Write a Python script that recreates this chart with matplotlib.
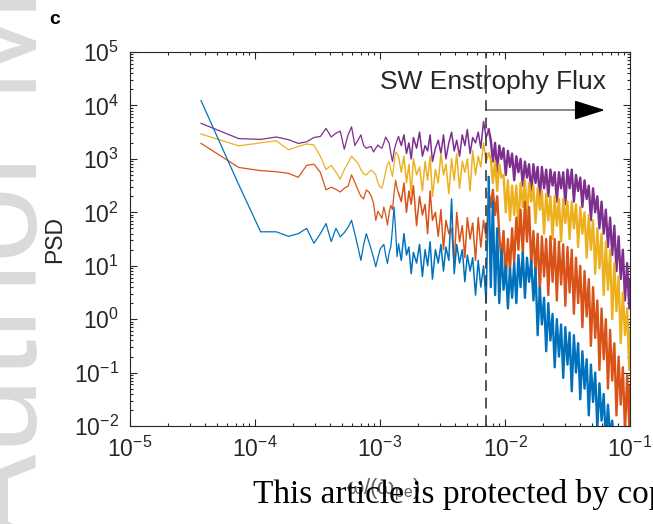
import numpy as np
import matplotlib
matplotlib.use('Agg')
import matplotlib.pyplot as plt
from matplotlib.ticker import LogLocator, NullFormatter

plt.rcParams['font.family'] = ['Liberation Sans', 'DejaVu Sans']
plt.rcParams['mathtext.default'] = 'regular'

# frequency grid: index k times the base step
df = 3.7e-5
k_low = list(range(1, 39))
k_mid = [40, 42, 44, 46, 48, 50, 53, 56, 59, 62, 65, 68, 71, 75, 79, 83, 87, 91,
         96, 101, 106, 111, 117, 123, 129, 135, 142, 149, 157, 165, 173, 182, 191, 200]
k_high = [208, 216, 225, 234, 243, 253, 263, 274, 285, 296, 308, 320, 333, 346, 360,
          375, 390, 405, 421, 438, 456, 474, 493, 513, 533, 555, 577, 600, 624, 649,
          675, 702, 730, 759, 790, 821, 854, 888, 924, 961, 999, 1039, 1081, 1124,
          1169, 1216, 1265, 1315, 1368, 1423, 1480, 1539, 1600, 1665, 1731, 1800,
          1873, 1947, 2025, 2106, 2191, 2278, 2369, 2464, 2563, 2665, 2700]

# log10(PSD), one list per curve
purple_log = [
    3.665, 3.38, 3.365, 3.41, 3.36, 3.29, 3.32, 3.40, 3.42, 3.57,
    3.41, 3.48, 3.52, 3.18, 3.45, 3.60, 3.25, 3.35, 3.45, 3.25,
    3.20, 3.22, 3.23, 3.13, 3.20, 3.26, 3.22, 3.20, 3.30, 3.41,
    3.35, 3.29, 3.10, 2.95, 3.15, 3.26, 3.35, 3.41,
    3.25, 3.45, 3.1, 3.3, 3.0, 3.4, 3.2, 3.5, 3.05, 3.25,
    3.15, 3.45, 2.95, 3.2, 3.35, 3.1, 3.45, 3.0, 3.3, 3.5,
    3.15, 3.35, 3.05, 3.45, 3.25, 3.55, 3.1, 3.4, 3.3, 3.5,
    3.2, 3.7, 3.4, 3.55,
    3.35, 2.95, 3.3, 2.75, 3.25, 3.0, 3.2, 2.7, 3.15, 2.85,
    3.1, 2.6, 3.05, 2.75, 3.0, 2.5, 2.95, 2.65, 2.9, 2.35,
    2.9, 2.55, 2.85, 2.25, 2.85, 2.45, 2.8, 2.3, 2.8, 2.5,
    2.75, 2.2, 2.75, 2.45, 2.75, 2.15, 2.8, 2.45, 2.8, 2.2,
    2.7, 2.4, 2.65, 2.1, 2.6, 2.25, 2.5, 1.85, 2.45, 2.0,
    2.3, 1.7, 2.2, 1.6, 2.05, 1.35, 1.9, 1.2, 1.75, 0.9,
    1.55, 0.75, 1.3, 0.35, 1.05, 0.2, 0.75]

yellow_log = [
    3.465, 3.245, 3.30, 3.34, 3.17, 3.23, 3.28, 3.26, 3.05, 2.80,
    2.88, 2.75, 2.62, 2.80, 2.92, 3.05, 2.98, 2.92, 2.80, 2.72,
    2.70, 2.75, 2.79, 2.75, 2.70, 2.55, 2.48, 2.45, 2.60, 2.76,
    2.90, 2.95, 2.80, 2.67, 2.90, 3.13, 3.10, 3.04,
    2.75, 3.05, 2.55, 2.9, 2.35, 3.0, 2.7, 2.85, 2.4, 2.95,
    2.6, 3.05, 2.3, 2.8, 2.55, 3.1, 2.7, 2.9, 2.35, 3.0,
    2.6, 3.1, 2.45, 2.95, 2.75, 3.0, 2.4, 3.15, 2.7, 3.05,
    2.85, 3.3, 2.95, 3.1,
    3.0, 2.55, 2.95, 2.4, 2.9, 2.65, 2.7, 2.0, 2.6, 1.85,
    2.5, 1.95, 2.5, 1.7, 2.55, 2.1, 2.6, 1.9, 2.55, 2.2,
    2.5, 1.8, 2.45, 2.05, 2.4, 1.6, 2.35, 1.85, 2.3, 1.5,
    2.3, 1.75, 2.25, 1.45, 2.25, 1.8, 2.2, 1.5, 2.2, 1.7,
    2.15, 1.35, 2.1, 1.6, 2.0, 1.15, 1.95, 1.3, 1.85, 0.85,
    1.7, 0.95, 1.6, 0.45, 1.45, 0.55, 1.3, 0.0, 1.05, 0.15,
    0.8, -0.45, 0.5, -0.3, 0.2, -0.95, -0.2]

orange_log = [
    3.29, 2.84, 2.78, 2.76, 2.73, 2.655, 2.88, 2.90, 2.75, 2.42,
    2.47, 2.43, 2.38, 2.45, 2.49, 2.70, 2.56, 2.42, 2.30, 2.25,
    2.42, 2.38, 2.30, 2.17, 1.85, 2.02, 1.95, 1.89, 2.10, 1.95,
    1.76, 2.00, 2.13, 2.05, 2.35, 2.60, 2.45, 2.36,
    2.2, 2.55, 2.0, 2.4, 2.15, 2.5, 1.75, 2.3, 1.95, 2.15,
    1.6, 2.4, 1.85, 2.0, 1.55, 2.05, 1.3, 1.85, 1.6, 1.7,
    1.0, 2.0, 1.45, 1.75, 1.15, 1.9, 1.5, 1.8, 1.1, 1.9,
    1.35, 1.85, 1.5, 2.35,
    2.1, 2.42, 1.95, 2.3, 1.6, 1.1, 1.65, 0.75, 1.5, 0.9,
    1.7, 1.05, 1.9, 1.3, 2.05, 1.2, 2.2, 1.45, 2.1, 1.0,
    1.65, 0.85, 1.6, 0.5, 1.55, 0.8, 1.5, 0.45, 1.55, 0.7,
    1.5, 0.35, 1.45, 0.65, 1.4, 0.25, 1.35, 0.5, 1.3, 0.1,
    1.15, 0.3, 1.0, -0.15, 0.9, 0.05, 0.75, -0.5, 0.6, -0.35,
    0.35, -0.95, 0.2, -0.75, 0.0, -1.3, -0.2, -1.15, -0.45, -1.8,
    -0.7, -1.6, -0.9, -2.1, -1.05, -2.0, -1.25]

blue_log = [
    4.09, 2.52, 1.635, 1.635, 1.55, 1.60, 1.70, 1.42, 1.60, 1.79,
    1.45, 1.70, 1.54, 1.62, 1.72, 1.85, 1.60, 1.35, 1.10, 1.40,
    1.60, 1.45, 1.30, 1.15, 0.98, 1.15, 1.30, 1.36, 1.40, 1.20,
    1.04, 1.25, 1.36, 1.70, 2.10, 1.67, 1.17, 1.40,
    1.1, 1.6, 1.2, 1.35, 0.85, 1.25, 1.05, 1.4, 0.8, 1.3,
    1.0, 1.45, 0.75, 1.3, 1.05, 1.4, 0.9, 1.35, 1.1, 2.25,
    0.85, 1.4, 1.05, 1.3, 0.7, 1.2, 0.9, 1.15, 0.45, 1.1,
    0.6, 1.0, 0.3, 2.66,
    0.6, 2.2, 0.45, 1.7, 0.3, 1.3, 0.55, 1.0, 0.2, 0.95,
    0.4, 1.05, 0.3, 1.2, 0.6, 1.25, 0.4, 1.15, 0.7, 1.1,
    0.35, 0.95, -0.3, 0.6, -0.1, 0.4, -0.6, 0.3, -0.4, 0.1,
    -0.9, 0.0, -0.7, -0.1, -1.1, -0.15, -0.85, -0.25, -1.35, -0.3,
    -1.0, -0.45, -1.5, -0.6, -1.3, -0.75, -1.8, -0.85, -1.55, -1.0,
    -2.05, -1.2, -1.9, -1.4, -2.3, -1.6, -2.2, -1.9, -2.5, -2.1,
    -2.6, -2.3, -2.7, -2.5, -2.8, -2.6, -2.9]

flux_start = 7.1e-3   # dashed line position
arrow_end = 0.063
arrow_level = 8.2e3

k_all = k_low + k_mid + k_high
freq = np.array(k_all) * df
split = len(k_low) + len(k_mid)  # index of k = 200, noisy band starts here
for vals in (purple_log, yellow_log, orange_log, blue_log):
    assert len(vals) == len(k_all), len(vals)

fig = plt.figure(figsize=(6.53, 5.24), dpi=100)
ax = fig.add_axes([0.1991, 0.187, 0.7657, 0.7137])

# purple drawn first, blue ends up on top
curves = [(purple_log, '#7E2F8E'), (yellow_log, '#EDB120'),
          (orange_log, '#D95319'), (blue_log, '#0072BD')]
for vals, col in curves:
    psd = 10.0 ** np.array(vals)
    ax.plot(freq[:len(k_low)], psd[:len(k_low)], color=col, lw=0.9)
    ax.plot(freq[len(k_low) - 1:split], psd[len(k_low) - 1:split], color=col, lw=1.1)
    # dense part of the spectrum looks like a filled band
    ax.plot(freq[split - 1:], psd[split - 1:], color=col, lw=1.7)

ax.set_xscale('log')
ax.set_yscale('log')
ax.set_xlim(1e-5, 1e-1)
ax.set_ylim(1e-2, 1e5)
ax.set_xticks(10.0 ** np.arange(-5, 0))
ax.set_yticks(10.0 ** np.arange(-2, 6))
for axis in (ax.xaxis, ax.yaxis):
    axis.set_minor_locator(LogLocator(base=10, subs=np.arange(2, 10), numticks=100))
    axis.set_minor_formatter(NullFormatter())

ax.tick_params(which='both', direction='in', top=True, right=True,
               colors='#262626', labelsize=16.5, width=0.8)
ax.tick_params(which='major', length=5, pad=8)
ax.tick_params(which='minor', length=2.5)
for s in ax.spines.values():
    s.set_color('#262626')
    s.set_linewidth(0.8)

# dashed line and the enstrophy flux arrow
ax.axvline(flux_start, color='#3a3a3a', ls=(0, (6.5, 4)), lw=1.2, zorder=5)
ax.plot([flux_start, 0.05], [arrow_level, arrow_level], color='#808080', lw=1.3)
ax.annotate('', xy=(arrow_end, arrow_level), xytext=(0.045, arrow_level),
            arrowprops=dict(arrowstyle='-|>,head_length=1.9,head_width=0.6',
                            color='black', lw=1.2, shrinkA=0, shrinkB=0))
ax.text(8.0e-3, 2.7e4, 'SW Enstrophy Flux', ha='center', va='center',
        fontsize=19, color='#262626')

ax.set_ylabel('PSD', fontsize=16.5, color='#262626')
ax.yaxis.set_label_coords(-0.128, 0.5)
ax.set_xlabel(r'$\omega/(\omega_{pe})$', fontsize=16, color='#606060')
ax.xaxis.set_label_coords(0.506, -0.135)

# panel letter and manuscript watermarks
fig.text(55 / 653, 1 - 19 / 524, 'c', weight='bold', fontsize=14,
         ha='center', va='center')
fig.text(37 / 653, 1 - 545 / 524, 'Author Manuscript', rotation=90,
         rotation_mode='anchor', ha='left', va='baseline', fontsize=99,
         color='#dadada', zorder=0)
fig.text(253 / 653, 1 - 503 / 524,
         'This article is protected by copyright. All rights reserved',
         family='Liberation Serif', fontsize=24, ha='left', va='baseline',
         color='black')

fig.savefig('out.png', dpi=100)
